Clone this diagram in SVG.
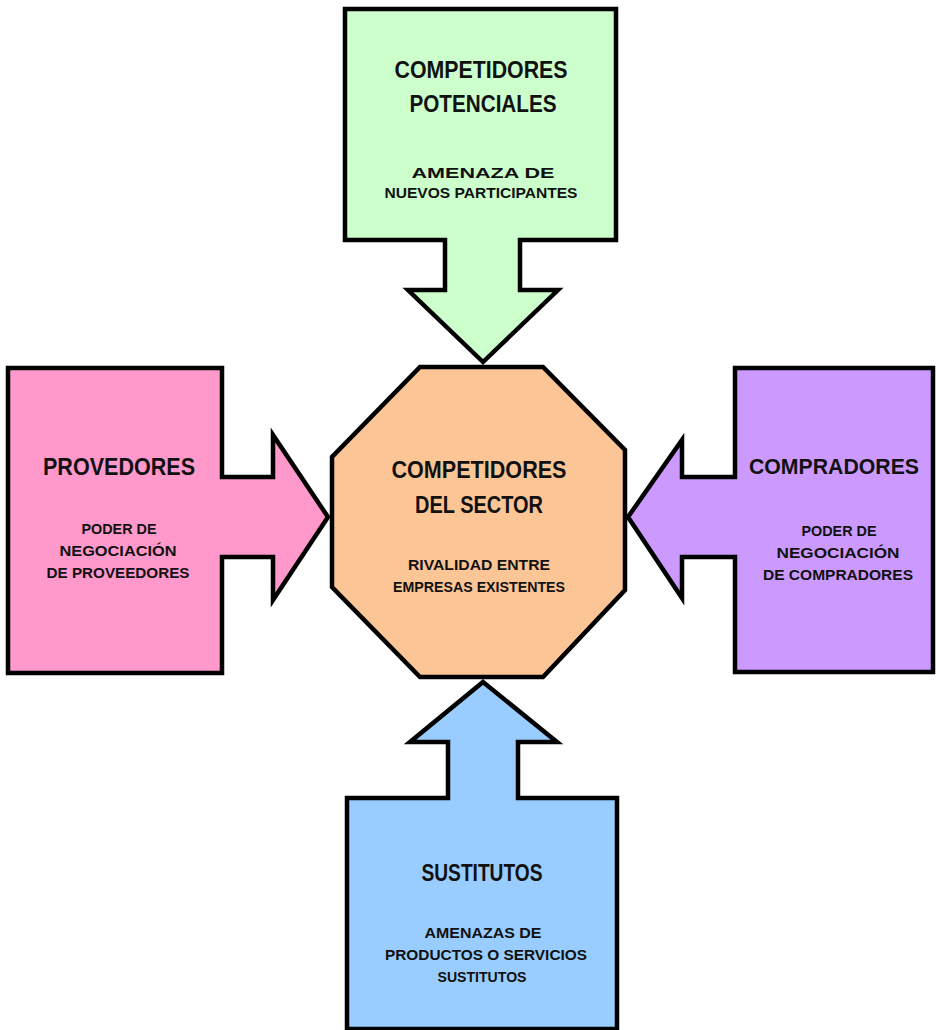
<svg xmlns="http://www.w3.org/2000/svg" width="936" height="1030" viewBox="0 0 936 1030">
<style>
.shape{stroke:#000;stroke-width:4.5;stroke-linejoin:miter}
.t{font-family:"Liberation Sans",Arial,sans-serif;font-weight:bold;fill:#111;text-anchor:middle}
.h{font-size:24px}
.s{font-size:15.5px}
</style>
<rect x="0" y="0" width="936" height="1030" fill="#fff"/>
<g id="connectors"></g>
<g id="node-potenciales">
<path class="shape" fill="#ccffcc" d="M345,9 H616 V240 H520 V290 H558 L483,362 L408,290 H445 V240 H345 Z"/>
<text class="t h" x="481" y="78" textLength="173" lengthAdjust="spacingAndGlyphs">COMPETIDORES</text>
<text class="t h" x="483" y="112" textLength="147" lengthAdjust="spacingAndGlyphs">POTENCIALES</text>
<text class="t s" x="483" y="178" textLength="143" lengthAdjust="spacingAndGlyphs">AMENAZA DE</text>
<text class="t s" x="481" y="198" textLength="193" lengthAdjust="spacingAndGlyphs">NUEVOS PARTICIPANTES</text>
</g>
<g id="node-proveedores">
<path class="shape" fill="#ff99cc" d="M8,368 H222 V477 H273 V435 L328,517 L273,600 V557 H222 V673 H8 Z"/>
<text class="t h" x="119" y="475" textLength="152" lengthAdjust="spacingAndGlyphs">PROVEDORES</text>
<text class="t s" x="119" y="534" textLength="75" lengthAdjust="spacingAndGlyphs">PODER DE</text>
<text class="t s" x="118" y="556" textLength="117" lengthAdjust="spacingAndGlyphs">NEGOCIACIÓN</text>
<text class="t s" x="118" y="578" textLength="143" lengthAdjust="spacingAndGlyphs">DE PROVEEDORES</text>
</g>
<g id="node-compradores">
<path class="shape" fill="#cc99ff" d="M933,368 H735 V477 H682 V440 L628,517 L682,598 V557 H735 V672 H933 Z"/>
<text class="t" style="font-size:22px" x="834" y="474" textLength="170" lengthAdjust="spacingAndGlyphs">COMPRADORES</text>
<text class="t s" x="839" y="536" textLength="75" lengthAdjust="spacingAndGlyphs">PODER DE</text>
<text class="t s" x="838" y="558" textLength="123" lengthAdjust="spacingAndGlyphs">NEGOCIACIÓN</text>
<text class="t s" x="838" y="580" textLength="150" lengthAdjust="spacingAndGlyphs">DE COMPRADORES</text>
</g>
<g id="node-sustitutos">
<path class="shape" fill="#99ccff" d="M483,682 L557,742 H518 V798 H617 V1029 H347 V798 H448 V742 H410 Z"/>
<text class="t h" x="482" y="881" textLength="121" lengthAdjust="spacingAndGlyphs">SUSTITUTOS</text>
<text class="t s" x="483" y="938" textLength="117" lengthAdjust="spacingAndGlyphs">AMENAZAS DE</text>
<text class="t s" x="486" y="960" textLength="202" lengthAdjust="spacingAndGlyphs">PRODUCTOS O SERVICIOS</text>
<text class="t s" x="482" y="982" textLength="89" lengthAdjust="spacingAndGlyphs">SUSTITUTOS</text>
</g>
<g id="node-sector">
<path class="shape" fill="#fcc595" d="M420,367 H543 L625,450 V590 L543,677 H420 L332,587 V457 Z"/>
<text class="t h" x="479" y="478" textLength="175" lengthAdjust="spacingAndGlyphs">COMPETIDORES</text>
<text class="t h" x="479" y="513" textLength="128" lengthAdjust="spacingAndGlyphs">DEL SECTOR</text>
<text class="t s" x="479" y="570" textLength="142" lengthAdjust="spacingAndGlyphs">RIVALIDAD ENTRE</text>
<text class="t s" x="479" y="592" textLength="172" lengthAdjust="spacingAndGlyphs">EMPRESAS EXISTENTES</text>
</g>
</svg>
